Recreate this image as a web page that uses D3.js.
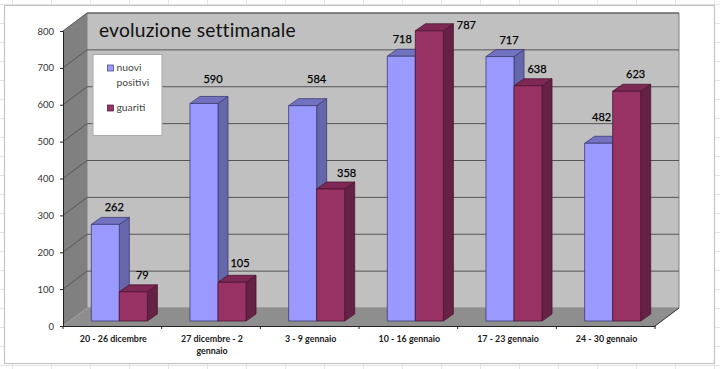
<!DOCTYPE html>
<html>
<head>
<meta charset="utf-8">
<script src="https://cdnjs.cloudflare.com/ajax/libs/d3/7.8.5/d3.min.js"></script>
<style>
html,body{margin:0;padding:0;background:#fff;}
svg{display:block;}
text{font-family:Lato,"Open Sans",sans-serif;}
</style>
</head>
<body>
<svg id="c" width="720" height="369"></svg>
<script>
const categories = ["20 - 26 dicembre", "27 dicembre - 2 gennaio", "3 - 9 gennaio", "10 - 16 gennaio", "17 - 23 gennaio", "24 - 30 gennaio"];
const nuoviPositivi = [262, 590, 584, 718, 717, 482];
const guariti = [79, 105, 358, 787, 638, 623];
const yTicks = [0, 100, 200, 300, 400, 500, 600, 700, 800];
const seriesNames = ["nuovi positivi", "guariti"];

const svg = d3.select("#c");
const W = 720, H = 369;
const left = 63, right = 655, base = 326, top3d = 31;
const depthX = 24, depthY = 18;       // wall depth
const barInX = 7, barInY = 5;         // bar inset from the front of the floor
const barDX = 10, barDY = 7;          // bar depth

const x = d3.scaleBand().domain(categories).range([left, right]);
const y = d3.scaleLinear().domain([0, 800]).range([base, top3d]);
const inner = d3.scaleBand().domain([0, 1]).range([0, x.bandwidth()]).paddingOuter(0.76).paddingInner(0);
const bw = inner.bandwidth();
const pts = a => a.map(p => p.join(",")).join(" ");

// spreadsheet cell lines behind the chart
const cells = svg.append("g").attr("stroke", "#e4e4e4").attr("stroke-width", 1);
d3.range(12, W, 39).forEach(v => cells.append("line").attr("x1", v + .5).attr("x2", v + .5).attr("y1", 0).attr("y2", H));
d3.range(4, H, 19).forEach(v => cells.append("line").attr("y1", v + .5).attr("y2", v + .5).attr("x1", 0).attr("x2", W));

// chart area
svg.append("rect").attr("x", 4.5).attr("y", 5.5).attr("width", 710).attr("height", 358)
  .attr("fill", "#fff").attr("stroke", "#c4c4c4").attr("stroke-width", 1.2);

// walls and floor
const topY = y(800), floorY = y(0);
svg.append("polygon").attr("fill", "#c0c0c0").attr("stroke", "#808080")
  .attr("points", pts([[left + depthX, topY - depthY], [right + depthX, topY - depthY], [right + depthX, floorY - depthY], [left + depthX, floorY - depthY]]));
svg.append("polygon").attr("fill", "#808080")
  .attr("points", pts([[left, topY], [left + depthX, topY - depthY], [left + depthX, floorY - depthY], [left, floorY]]));
svg.append("polygon").attr("fill", "#8e8e8e")
  .attr("points", pts([[left, floorY], [left + depthX, floorY - depthY], [right + depthX, floorY - depthY], [right, floorY]]));

// gridlines
const grid = svg.append("g").attr("fill", "none").attr("stroke", "#555").attr("stroke-width", 1);
yTicks.filter(v => v > 0).forEach(v => {
  grid.append("polyline").attr("points", pts([[left, y(v)], [left + depthX, y(v) - depthY], [right + depthX, y(v) - depthY]]));
});
svg.append("line").attr("x1", right).attr("y1", floorY).attr("x2", right + depthX).attr("y2", floorY - depthY).attr("stroke", "#333");

// axes
const yAxis = d3.axisLeft(y).tickValues(yTicks).tickSize(3).tickPadding(6);
const gy = svg.append("g").attr("transform", `translate(${left},0)`).call(yAxis);
gy.selectAll("text").attr("font-size", 9.5).attr("fill", "#333");
gy.selectAll("path,line").attr("stroke", "#222");

const xAxis = d3.axisBottom(x).tickSize(0).tickFormat("");
const gx = svg.append("g").attr("transform", `translate(0,${base})`).call(xAxis);
gx.selectAll("path").attr("stroke", "#222");
gx.selectAll(".tick").remove();
gx.selectAll(".b").data(d3.range(0, categories.length + 1)).join("line")
  .attr("x1", i => left + i * x.step()).attr("x2", i => left + i * x.step())
  .attr("y1", 0).attr("y2", 3).attr("stroke", "#222");

// category labels
const catWrap = { "27 dicembre - 2 gennaio": ["27 dicembre - 2", "gennaio"] };
categories.forEach(c => {
  const t = svg.append("text").attr("text-anchor", "middle").attr("font-size", 8.9).attr("font-weight", 700).attr("fill", "#1a1a1a");
  (catWrap[c] || [c]).forEach((s, i) => {
    t.append("tspan").attr("x", x(c) + x.bandwidth() / 2 + 1).attr("y", 342 + i * 12).text(s);
  });
});

// bars
const styles = [
  { front: "#9999ff", side: "#6666aa", top: "#7272c0", stroke: "#3c3c70" },
  { front: "#993366", side: "#662244", top: "#7d2855", stroke: "#4a1530" }
];
const barLayer = svg.append("g");
function bar(cat, s, v) {
  const st = styles[s];
  const x0 = x(cat) + inner(s) + barInX, x1 = x0 + bw;
  const yb = y(0) - barInY, yt = y(v) - barInY;
  const g = barLayer.append("g").attr("stroke", st.stroke).attr("stroke-width", .8).attr("stroke-linejoin", "round");
  g.append("polygon").attr("fill", st.side).attr("points", pts([[x1, yt], [x1 + barDX, yt - barDY], [x1 + barDX, yb - barDY], [x1, yb]]));
  g.append("polygon").attr("fill", st.top).attr("points", pts([[x0, yt], [x0 + barDX, yt - barDY], [x1 + barDX, yt - barDY], [x1, yt]]));
  g.append("rect").attr("fill", st.front).attr("x", x0).attr("y", yt).attr("width", bw).attr("height", yb - yt);
}
categories.forEach((c, i) => { bar(c, 0, nuoviPositivi[i]); bar(c, 1, guariti[i]); });

// value labels: hand-moved in the original where they would collide
const moved = { "1:0": [0, -7], "2:0": [5, -10], "3:1": [28, 11], "3:0": [-8, 0], "5:0": [-6, -9], "1:1": [-1, -2], "2:1": [7, 1] };
categories.forEach((c, i) => {
  [nuoviPositivi[i], guariti[i]].forEach((v, s) => {
    const m = moved[i + ":" + s] || [0, 0];
    svg.append("text").attr("text-anchor", "middle").attr("font-size", 11).attr("fill", "#000")
      .attr("stroke", "#000").attr("stroke-width", .25)
      .attr("x", x(c) + inner(s) + barInX + bw / 2 + 9 + m[0])
      .attr("y", y(v) - barInY - 13 + m[1])
      .text(v);
  });
});

// legend
svg.append("rect").attr("x", 93).attr("y", 54.5).attr("width", 69).attr("height", 81)
  .attr("fill", "#fff").attr("stroke", "#a8a8a8");
svg.append("rect").attr("x", 107.5).attr("y", 65).attr("width", 6).attr("height", 6).attr("fill", styles[0].front).attr("stroke", "#3c3c70").attr("stroke-width", .7);
svg.append("rect").attr("x", 107.5).attr("y", 105).attr("width", 6).attr("height", 6).attr("fill", styles[1].front).attr("stroke", "#4a1530").attr("stroke-width", .7);
const lt = svg.append("text").attr("font-size", 10.3).attr("fill", "#444");
seriesNames[0].split(" ").forEach((s, i) => lt.append("tspan").attr("x", 116.5).attr("y", 71 + i * 14.5).text(s));
svg.append("text").attr("font-size", 10.3).attr("fill", "#444").attr("x", 116.5).attr("y", 111).text(seriesNames[1]);

// title
svg.append("text").attr("x", 99).attr("y", 37).attr("font-size", 19.2).attr("fill", "#111").attr("letter-spacing", .2).text("evoluzione settimanale");
</script>
</body>
</html>
